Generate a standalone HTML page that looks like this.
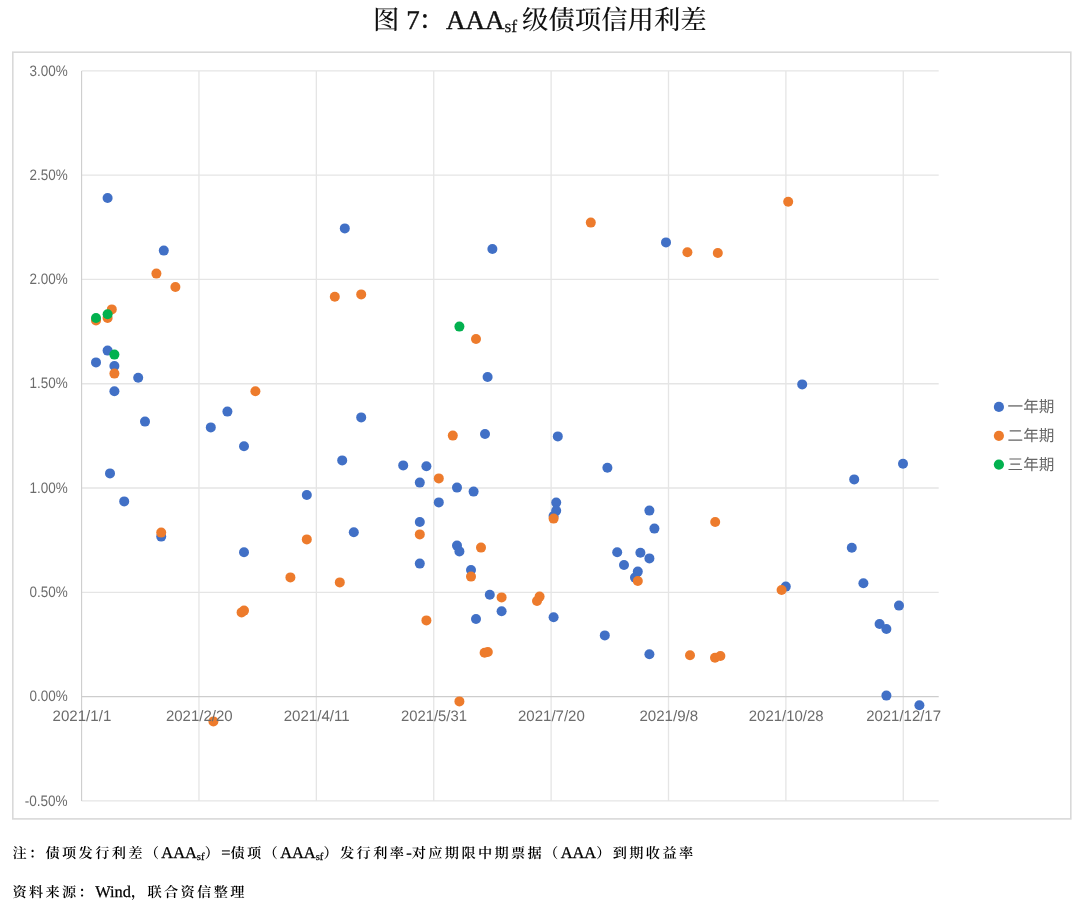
<!DOCTYPE html>
<html lang="zh-CN">
<head>
<meta charset="utf-8">
<title>图 7：AAAsf级债项信用利差</title>
<style>
html,body{margin:0;padding:0;background:#fff;}
body{width:1080px;height:910px;overflow:hidden;position:relative;}
svg{position:absolute;left:0;top:0;display:block;}
text{text-rendering:geometricPrecision;}
.ax{font-family:"Liberation Sans","Noto Sans CJK SC",sans-serif;font-size:15.2px;fill:#6c6c6c;}
.lg{font-family:"Liberation Sans","Noto Sans CJK SC",sans-serif;font-size:15.6px;fill:#666666;}
.ttl{font-family:"Liberation Serif","Noto Serif CJK SC",serif;font-size:26.4px;fill:#111;font-weight:500;}
.nt{font-family:"Liberation Serif","Noto Serif CJK SC",serif;font-size:14.2px;letter-spacing:2.36px;fill:#000;font-weight:600;}
.la{font-size:16.4px;letter-spacing:0;font-weight:400;stroke:#000;stroke-width:0.25px;}
</style>
</head>
<body>
<svg width="1080" height="910" viewBox="0 0 1080 910">
<text class="ttl" y="29.1"><tspan x="372.9">图</tspan><tspan x="406.2" font-size="27px" stroke="#111" stroke-width="0.4">7</tspan><tspan x="418.4">：</tspan><tspan x="445.9" font-size="27px" stroke="#111" stroke-width="0.4">AAA</tspan><tspan font-size="17.5px" dy="2.4" stroke="#111" stroke-width="0.25">sf</tspan><tspan dy="-2.4" x="522.0">级债项信用利差</tspan></text>
<rect x="12.8" y="52.2" width="1058" height="766.7" fill="#fff" stroke="#d9d9d9" stroke-width="1.6"/>
<g stroke="#e5e5e5" stroke-width="1.3" fill="none">
<line x1="81.6" y1="70.90" x2="938.7" y2="70.90"/>
<line x1="81.6" y1="175.18" x2="938.7" y2="175.18"/>
<line x1="81.6" y1="279.46" x2="938.7" y2="279.46"/>
<line x1="81.6" y1="383.74" x2="938.7" y2="383.74"/>
<line x1="81.6" y1="488.02" x2="938.7" y2="488.02"/>
<line x1="81.6" y1="592.30" x2="938.7" y2="592.30"/>
<line x1="81.6" y1="800.86" x2="938.7" y2="800.86"/>
<line x1="198.98" y1="70.9" x2="198.98" y2="800.9"/>
<line x1="316.36" y1="70.9" x2="316.36" y2="800.9"/>
<line x1="433.74" y1="70.9" x2="433.74" y2="800.9"/>
<line x1="551.12" y1="70.9" x2="551.12" y2="800.9"/>
<line x1="668.50" y1="70.9" x2="668.50" y2="800.9"/>
<line x1="785.88" y1="70.9" x2="785.88" y2="800.9"/>
<line x1="903.26" y1="70.9" x2="903.26" y2="800.9"/>
</g>
<g stroke="#cdcdcd" stroke-width="1.1" fill="none">
<line x1="81.6" y1="696.58" x2="938.7" y2="696.58"/>
<line x1="81.60" y1="70.9" x2="81.60" y2="800.9"/>
</g>
<g fill="#4170c6">
<circle cx="107.6" cy="198.0" r="5.0"/>
<circle cx="163.8" cy="250.6" r="5.0"/>
<circle cx="107.6" cy="350.6" r="5.0"/>
<circle cx="96.0" cy="362.4" r="5.0"/>
<circle cx="114.4" cy="366.0" r="5.0"/>
<circle cx="138.2" cy="377.8" r="5.0"/>
<circle cx="114.4" cy="391.2" r="5.0"/>
<circle cx="227.4" cy="411.6" r="5.0"/>
<circle cx="145.0" cy="421.6" r="5.0"/>
<circle cx="210.8" cy="427.4" r="5.0"/>
<circle cx="244.0" cy="446.2" r="5.0"/>
<circle cx="110.0" cy="473.4" r="5.0"/>
<circle cx="124.2" cy="501.4" r="5.0"/>
<circle cx="161.2" cy="536.6" r="5.0"/>
<circle cx="244.0" cy="552.2" r="5.0"/>
<circle cx="344.8" cy="228.4" r="5.0"/>
<circle cx="492.4" cy="249.0" r="5.0"/>
<circle cx="487.6" cy="377.0" r="5.0"/>
<circle cx="361.2" cy="417.4" r="5.0"/>
<circle cx="485.0" cy="434.0" r="5.0"/>
<circle cx="342.2" cy="460.4" r="5.0"/>
<circle cx="403.2" cy="465.4" r="5.0"/>
<circle cx="426.4" cy="466.2" r="5.0"/>
<circle cx="419.8" cy="482.6" r="5.0"/>
<circle cx="457.0" cy="487.6" r="5.0"/>
<circle cx="473.6" cy="491.6" r="5.0"/>
<circle cx="306.8" cy="495.0" r="5.0"/>
<circle cx="438.8" cy="502.4" r="5.0"/>
<circle cx="419.8" cy="522.0" r="5.0"/>
<circle cx="353.8" cy="532.2" r="5.0"/>
<circle cx="457.0" cy="545.6" r="5.0"/>
<circle cx="459.4" cy="551.4" r="5.0"/>
<circle cx="419.8" cy="563.6" r="5.0"/>
<circle cx="471.0" cy="570.0" r="5.0"/>
<circle cx="489.8" cy="594.8" r="5.0"/>
<circle cx="501.6" cy="611.3" r="5.0"/>
<circle cx="476.0" cy="619.0" r="5.0"/>
<circle cx="666.0" cy="242.4" r="5.0"/>
<circle cx="557.8" cy="436.4" r="5.0"/>
<circle cx="607.4" cy="467.8" r="5.0"/>
<circle cx="556.2" cy="502.6" r="5.0"/>
<circle cx="556.2" cy="510.8" r="5.0"/>
<circle cx="553.6" cy="516.0" r="5.0"/>
<circle cx="649.4" cy="510.6" r="5.0"/>
<circle cx="654.4" cy="528.6" r="5.0"/>
<circle cx="617.2" cy="552.2" r="5.0"/>
<circle cx="640.4" cy="552.8" r="5.0"/>
<circle cx="649.4" cy="558.4" r="5.0"/>
<circle cx="624.0" cy="565.0" r="5.0"/>
<circle cx="637.8" cy="571.6" r="5.0"/>
<circle cx="635.0" cy="577.6" r="5.0"/>
<circle cx="553.6" cy="617.2" r="5.0"/>
<circle cx="604.8" cy="635.4" r="5.0"/>
<circle cx="649.4" cy="654.2" r="5.0"/>
<circle cx="802.2" cy="384.4" r="5.0"/>
<circle cx="903.0" cy="463.8" r="5.0"/>
<circle cx="854.2" cy="479.4" r="5.0"/>
<circle cx="851.8" cy="547.8" r="5.0"/>
<circle cx="863.4" cy="583.2" r="5.0"/>
<circle cx="785.8" cy="586.6" r="5.0"/>
<circle cx="899.0" cy="605.6" r="5.0"/>
<circle cx="879.6" cy="624.0" r="5.0"/>
<circle cx="886.4" cy="629.0" r="5.0"/>
<circle cx="886.4" cy="695.6" r="5.0"/>
<circle cx="919.4" cy="705.2" r="5.0"/>
</g>
<g fill="#ed7b2c">
<circle cx="156.4" cy="273.6" r="5.0"/>
<circle cx="175.4" cy="287.0" r="5.0"/>
<circle cx="111.8" cy="309.4" r="5.0"/>
<circle cx="107.6" cy="318.0" r="5.0"/>
<circle cx="96.0" cy="320.4" r="5.0"/>
<circle cx="114.4" cy="373.6" r="5.0"/>
<circle cx="255.4" cy="391.2" r="5.0"/>
<circle cx="161.2" cy="532.6" r="5.0"/>
<circle cx="241.6" cy="612.4" r="5.0"/>
<circle cx="244.0" cy="610.6" r="5.0"/>
<circle cx="213.4" cy="721.4" r="5.0"/>
<circle cx="334.8" cy="296.8" r="5.0"/>
<circle cx="361.2" cy="294.4" r="5.0"/>
<circle cx="476.0" cy="339.0" r="5.0"/>
<circle cx="452.8" cy="435.6" r="5.0"/>
<circle cx="438.8" cy="478.4" r="5.0"/>
<circle cx="419.8" cy="534.4" r="5.0"/>
<circle cx="306.8" cy="539.4" r="5.0"/>
<circle cx="481.0" cy="547.6" r="5.0"/>
<circle cx="471.0" cy="576.6" r="5.0"/>
<circle cx="290.4" cy="577.4" r="5.0"/>
<circle cx="339.8" cy="582.4" r="5.0"/>
<circle cx="501.6" cy="597.4" r="5.0"/>
<circle cx="426.4" cy="620.4" r="5.0"/>
<circle cx="484.6" cy="652.8" r="5.0"/>
<circle cx="487.8" cy="652.0" r="5.0"/>
<circle cx="459.4" cy="701.4" r="5.0"/>
<circle cx="590.8" cy="222.6" r="5.0"/>
<circle cx="687.4" cy="252.2" r="5.0"/>
<circle cx="717.8" cy="253.0" r="5.0"/>
<circle cx="553.6" cy="518.6" r="5.0"/>
<circle cx="715.2" cy="522.0" r="5.0"/>
<circle cx="637.8" cy="581.0" r="5.0"/>
<circle cx="539.6" cy="596.6" r="5.0"/>
<circle cx="537.0" cy="601.0" r="5.0"/>
<circle cx="690.0" cy="655.2" r="5.0"/>
<circle cx="715.0" cy="657.8" r="5.0"/>
<circle cx="720.4" cy="656.0" r="5.0"/>
<circle cx="788.2" cy="201.8" r="5.0"/>
<circle cx="781.6" cy="590.0" r="5.0"/>
</g>
<g fill="#02b14f">
<circle cx="107.6" cy="314.2" r="5.0"/>
<circle cx="96.0" cy="318.0" r="5.0"/>
<circle cx="114.4" cy="354.6" r="5.0"/>
<circle cx="459.4" cy="326.6" r="5.0"/>
</g>
<g class="ax" text-anchor="end">
<text x="67.7" y="75.5" textLength="38.2" lengthAdjust="spacingAndGlyphs">3.00%</text>
<text x="67.7" y="179.8" textLength="38.2" lengthAdjust="spacingAndGlyphs">2.50%</text>
<text x="67.7" y="284.1" textLength="38.2" lengthAdjust="spacingAndGlyphs">2.00%</text>
<text x="67.7" y="388.3" textLength="38.2" lengthAdjust="spacingAndGlyphs">1.50%</text>
<text x="67.7" y="492.6" textLength="38.2" lengthAdjust="spacingAndGlyphs">1.00%</text>
<text x="67.7" y="596.9" textLength="38.2" lengthAdjust="spacingAndGlyphs">0.50%</text>
<text x="67.7" y="701.2" textLength="38.2" lengthAdjust="spacingAndGlyphs">0.00%</text>
<text x="67.7" y="805.5" textLength="43.0" lengthAdjust="spacingAndGlyphs">-0.50%</text>
</g>
<g class="ax" text-anchor="middle">
<text x="81.9" y="721.3" textLength="58.8" lengthAdjust="spacingAndGlyphs">2021/1/1</text>
<text x="199.3" y="721.3" textLength="66.8" lengthAdjust="spacingAndGlyphs">2021/2/20</text>
<text x="316.7" y="721.3" textLength="66.0" lengthAdjust="spacingAndGlyphs">2021/4/11</text>
<text x="434.0" y="721.3" textLength="66.0" lengthAdjust="spacingAndGlyphs">2021/5/31</text>
<text x="551.4" y="721.3" textLength="66.8" lengthAdjust="spacingAndGlyphs">2021/7/20</text>
<text x="668.8" y="721.3" textLength="58.8" lengthAdjust="spacingAndGlyphs">2021/9/8</text>
<text x="786.2" y="721.3" textLength="74.8" lengthAdjust="spacingAndGlyphs">2021/10/28</text>
<text x="903.6" y="721.3" textLength="74.8" lengthAdjust="spacingAndGlyphs">2021/12/17</text>
</g>
<circle cx="998.9" cy="406.9" r="5.1" fill="#4170c6"/>
<text class="lg" x="1007.6" y="411.8">一年期</text>
<circle cx="998.9" cy="435.8" r="5.1" fill="#ed7b2c"/>
<text class="lg" x="1007.6" y="440.6">二年期</text>
<circle cx="998.9" cy="464.6" r="5.1" fill="#02b14f"/>
<text class="lg" x="1007.6" y="469.5">三年期</text>
<text class="nt" x="12.4" y="857.8">注：债项发行利差（<tspan class="la">AAA</tspan><tspan class="la" style="font-size:10.5px" dy="2">sf</tspan><tspan dy="-2" style="font-size:1px;letter-spacing:0"> </tspan>）<tspan class="la">=</tspan>债项（<tspan class="la">AAA</tspan><tspan class="la" style="font-size:10.5px" dy="2">sf</tspan><tspan dy="-2" style="font-size:1px;letter-spacing:0"> </tspan>）发行利率<tspan class="la">-</tspan>对应期限中期票据（<tspan class="la">AAA</tspan>）到期收益率</text>
<text class="nt" x="12.4" y="897.1">资料来源：<tspan class="la">Wind</tspan>，联合资信整理</text>
</svg>
</body>
</html>
